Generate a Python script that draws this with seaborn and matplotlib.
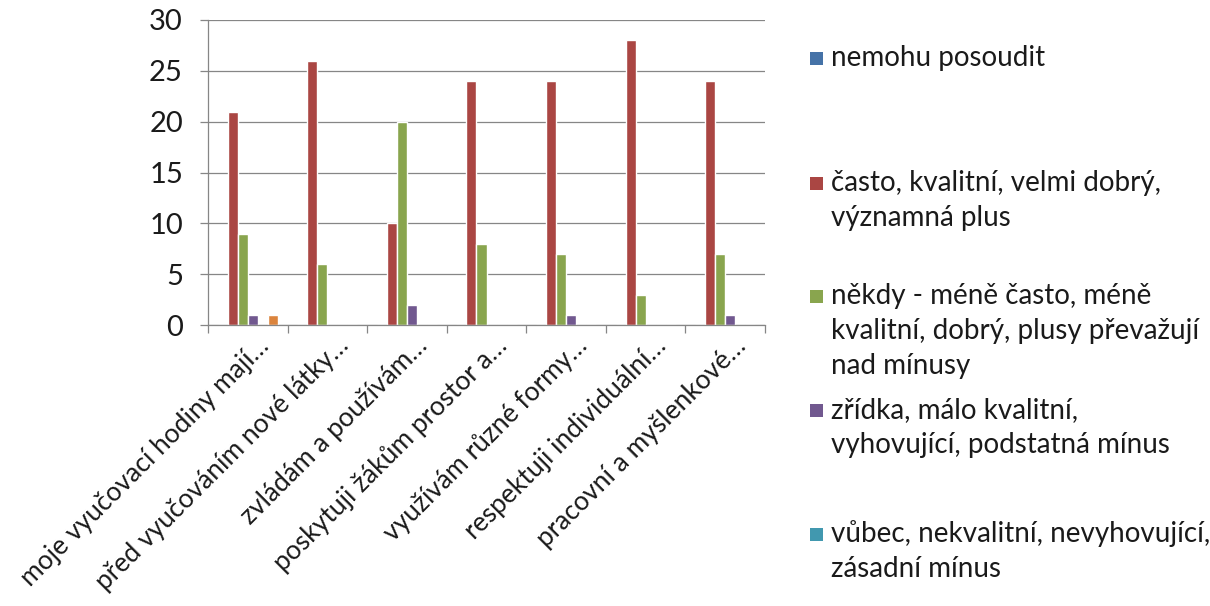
import matplotlib
matplotlib.use('Agg')
import matplotlib.pyplot as plt
from matplotlib.patches import Rectangle
from matplotlib.transforms import ScaledTranslation
from matplotlib.ticker import FixedLocator
import pandas as pd
import seaborn as sns

# Kategorie (zkrácené popisky tak, jak jsou v grafu)
kategorie = ['moje vyučovací hodiny mají…', 'před vyučováním nové látky…',
             'zvládám a používám…', 'poskytuji žákům prostor a…',
             'využívám různé formy…', 'respektuji individuální…',
             'pracovní a myšlenkové…']

# Řady hodnocení (šestá řada v legendě není vidět)
rady = ['nemohu posoudit',
        'často, kvalitní, velmi dobrý, významná plus',
        'někdy - méně často, méně kvalitní, dobrý, plusy převažují nad mínusy',
        'zřídka, málo kvalitní, vyhovující, podstatná mínus',
        'vůbec, nekvalitní, nevyhovující, zásadní mínus',
        'bez odpovědi']

nemohu = [0, 0, 0, 0, 0, 0, 0]
casto = [21, 26, 10, 24, 24, 28, 24]
nekdy = [9, 6, 20, 8, 7, 3, 7]
zridka = [1, 0, 2, 0, 1, 0, 1]
vubec = [0, 0, 0, 0, 0, 0, 0]
bez_odpovedi = [1, 0, 0, 0, 0, 0, 0]

# Popisky legendy zalomené jako v originále
legenda = ['nemohu posoudit',
           'často, kvalitní, velmi dobrý,\nvýznamná plus',
           'někdy - méně často, méně\nkvalitní, dobrý, plusy převažují\nnad mínusy',
           'zřídka, málo kvalitní,\nvyhovující, podstatná mínus',
           'vůbec, nekvalitní, nevyhovující,\nzásadní mínus']

barvy = ['#4572A7', '#AA4643', '#89A54E', '#71588F', '#4198AF', '#DB843D']

# Dlouhá tabulka pro seaborn
hodnoty = [nemohu, casto, nekdy, zridka, vubec, bez_odpovedi]
df = pd.DataFrame({
    'kategorie': [k for _ in rady for k in kategorie],
    'hodnocení': [r for r in rady for _ in kategorie],
    'počet': [v for serie in hodnoty for v in serie],
})

sns.set_style('white')
plt.rcParams['font.family'] = ['Lato', 'DejaVu Sans']
FS = 20
TXT = '#1a1a1a'
SEDA = '#868686'

W, H = 1210, 606
fig = plt.figure(figsize=(W / 100, H / 100), dpi=100)
ax = fig.add_axes([208 / W, 1 - 325 / H, (765 - 208) / W, (325 - 20) / H])

sns.barplot(data=df, x='kategorie', y='počet', hue='hodnocení',
            order=kategorie, hue_order=rady, palette=barvy,
            width=0.755, saturation=1, errorbar=None, legend=False, ax=ax)

ax.set_xlim(-0.5, 6.5)
ax.set_ylim(0, 30)
ax.set_yticks(range(0, 31, 5))
ax.set_xlabel('')
ax.set_ylabel('')

# Mřížka a osy
ax.grid(axis='y', color=SEDA, linewidth=0.9)
ax.set_axisbelow(True)
for s in ['top', 'right']:
    ax.spines[s].set_visible(False)
for s in ['left', 'bottom']:
    ax.spines[s].set_color(SEDA)
    ax.spines[s].set_linewidth(0.9)

ax.tick_params(axis='y', length=6, width=0.9, color=SEDA, pad=12,
               labelsize=21, labelcolor=TXT, left=True)
ax.xaxis.set_minor_locator(FixedLocator([i - 0.5 for i in range(len(kategorie) + 1)]))
ax.tick_params(axis='x', which='minor', length=6, width=0.9, color=SEDA, bottom=True)
ax.tick_params(axis='x', which='major', length=0, pad=0)

ax.set_xticks(range(len(kategorie)))
ax.set_xticklabels(kategorie, rotation=45, ha='right', va='center',
                   rotation_mode='anchor', fontsize=19, color=TXT)
posun = ScaledTranslation(0.17, -0.17, fig.dpi_scale_trans)
for lab in ax.get_xticklabels():
    lab.set_transform(lab.get_transform() + posun)

# Legenda vpravo (ručně, s nerovnoměrnými rozestupy jako v Excelu)
radky_y = [58, 183, 296, 410, 534]
for i, text in enumerate(legenda):
    y0 = radky_y[i]
    fig.patches.append(Rectangle((810 / W, 1 - (y0 + 7) / H), 13 / W, 13 / H,
                                 transform=fig.transFigure, facecolor=barvy[i],
                                 edgecolor='none'))
    for j, radek in enumerate(text.split('\n')):
        fig.text(831 / W, 1 - (y0 + j * 35) / H, radek, fontsize=FS,
                 color=TXT, va='center', ha='left')

fig.savefig('out.png', dpi=100)
